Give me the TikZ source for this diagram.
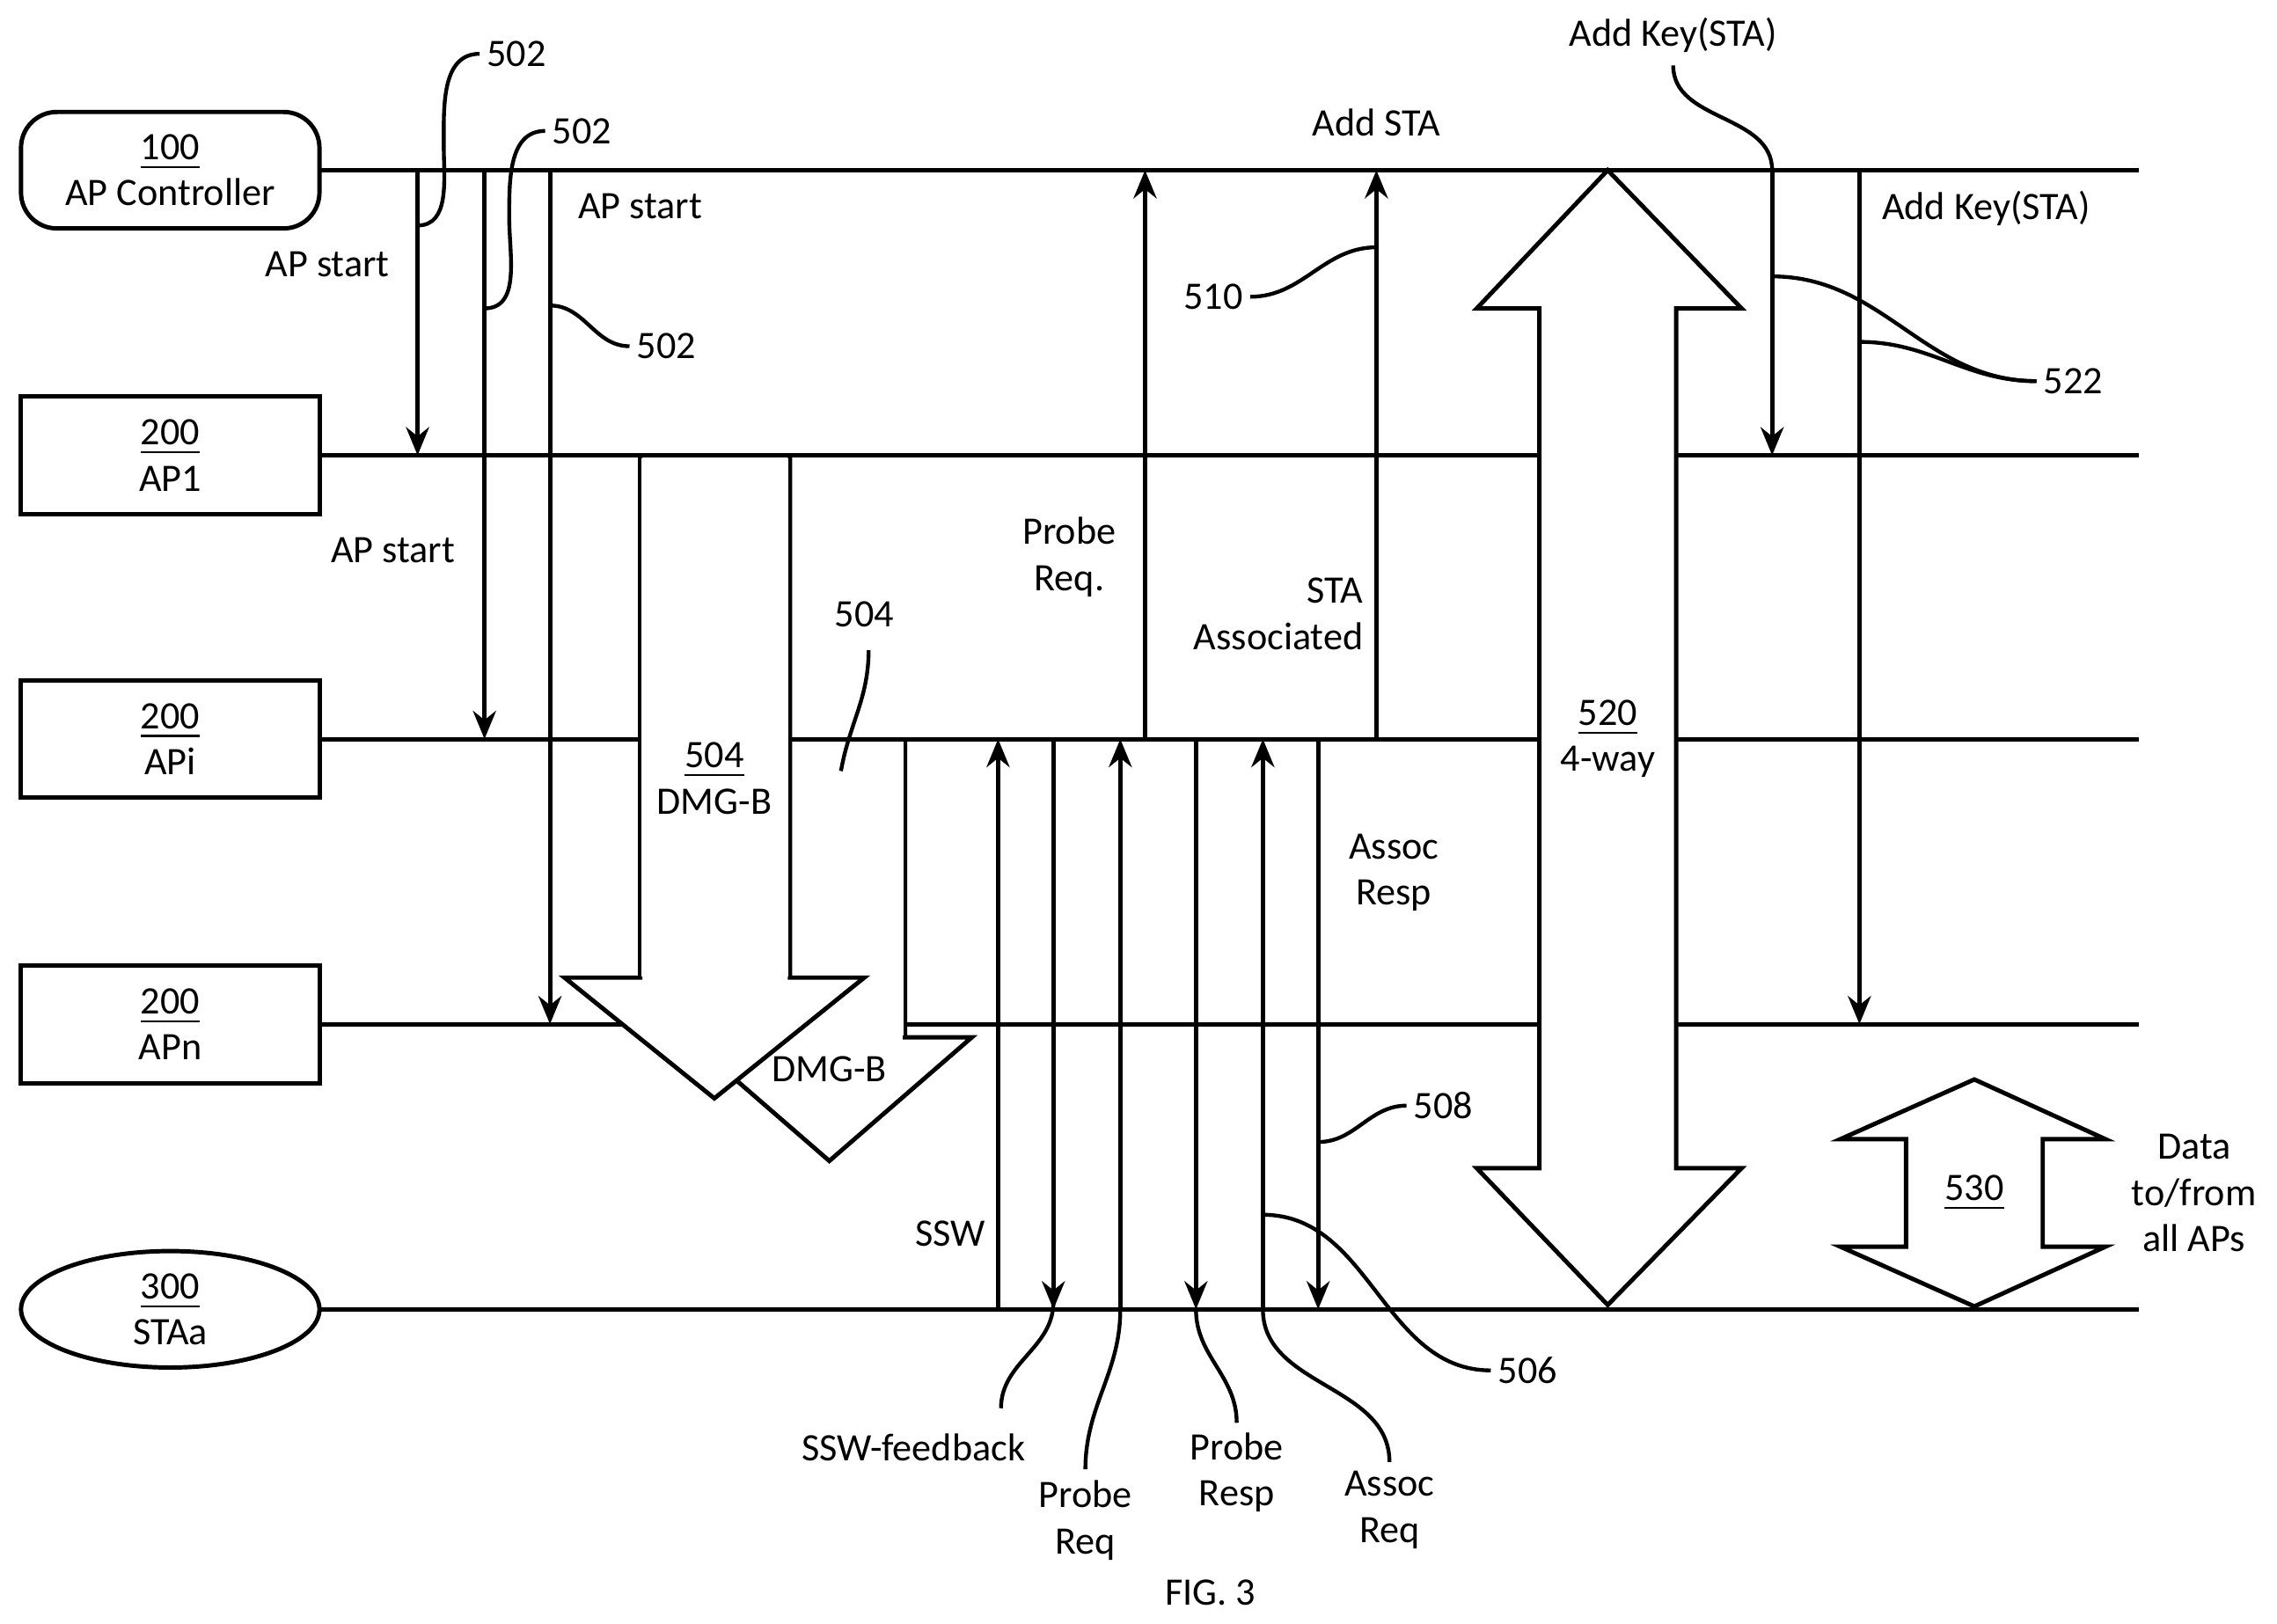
\documentclass[tikz,border=0pt]{standalone}
\usepackage{fontspec}
\setmainfont{Carlito}
\usetikzlibrary{arrows.meta,shapes.geometric}
\begin{document}
\begin{tikzpicture}[x=0.01cm,y=-0.01cm,line width=0.85pt,
  every node/.style={font=\fontsize{7.6}{9}\selectfont,align=center,inner sep=1pt},
  msg/.style={-{Stealth[length=5.5pt,width=4.5pt]}},
  lead/.style={line width=0.75pt},
  lane/.style={line width=0.85pt},
  bigarrow/.style={fill=white,line width=0.85pt,line join=miter}]
\useasboundingbox (0,0) rectangle (1565,1116);
% lanes
\draw[lane] (219,117) -- (1470,117);
\draw[lane] (219,313) -- (1470,313);
\draw[lane] (219,508) -- (1470,508);
\draw[lane] (219,704) -- (1470,704);
\draw[lane] (219,900) -- (1470,900);
% entities
\node[draw,rounded corners=7pt,minimum width=2.05cm,minimum height=0.8cm,fill=white] (ctrl) at (117,117) {\underline{100}\\AP Controller};
\node[draw,minimum width=2.05cm,minimum height=0.81cm,fill=white] (ap1) at (117,313) {\underline{200}\\AP1};
\node[draw,minimum width=2.05cm,minimum height=0.8cm,fill=white] (api) at (117,508) {\underline{200}\\APi};
\node[draw,minimum width=2.05cm,minimum height=0.81cm,fill=white] (apn) at (117,704) {\underline{200}\\APn};
\node[draw,ellipse,minimum width=2.05cm,minimum height=0.8cm,fill=white,inner sep=0pt] (sta) at (117,900) {\underline{300}\\STAa};
% AP start
\draw[msg] (287,117) -- (287,313);
\draw[msg] (333,117) -- (333,508);
\draw[msg] (378,117) -- (378,704);
\node (apsA) at (225,182) {AP start};
\node (apsB) at (270,378) {AP start};
\node (apsC) at (440,142) {AP start};
\node (n502a) at (355,37) {502};
\node (n502b) at (400,90) {502};
\node (n502c) at (458,238) {502};
\draw[lead] (287,155) to[out=0,in=270] (305,100) to[out=90,in=180] (n502a.west);
\draw[lead] (333,212) to[out=0,in=270] (350,150) to[out=90,in=180] (n502b.west);
\draw[lead] (378,210) to[out=0,in=180] (n502c.west);
% DMG-B beacons
\draw[bigarrow] (622,508) -- (622,713) -- (668,713) -- (570,798) -- (472,713) -- (518,713) -- (518,508);
\fill[white] (519,510) rectangle (621,712);
\draw[bigarrow] (440,313) -- (440,672) -- (388,672) -- (491,755) -- (594,672) -- (543,672) -- (543,313);
\fill[white] (441,315) rectangle (542,671);
\draw[lane] (440,313) -- (543,313);
\draw[lane] (543,508) -- (622,508);
\node (dmgA) at (491,535) {\underline{504}\\DMG-B};
\node (dmgB) at (570,735) {DMG-B};
\node (n504) at (594,422) {504};
\draw[lead] (578,530) to[out=80,in=270] (597,447);
% STA exchange
\draw[msg] (686,900) -- (686,508);
\draw[msg] (724,508) -- (724,900);
\draw[msg] (770,900) -- (770,508);
\draw[msg] (822,508) -- (822,900);
\draw[msg] (868,900) -- (868,508);
\draw[msg] (906,508) -- (906,900);
\node (ssw) at (653,848) {SSW};
\node (sswfb) at (628,995) {SSW-feedback};
\node (preq) at (746,1045) {Probe\\Req};
\node (presp) at (850,1012) {Probe\\Resp};
\node (areq) at (955,1038) {Assoc\\Req};
\node (aresp) at (958,600) {Assoc\\Resp};
\draw[lead] (724,895) to[out=270,in=90] (688,968);
\draw[lead] (770,900) to[out=270,in=90] (746,1010);
\draw[lead] (822,900) to[out=270,in=90] (850,978);
\draw[lead] (868,900) to[out=270,in=90] (955,1005);
\node (n508) at (992,760) {508};
\draw[lead] (906,785) to[out=0,in=180] (n508.west);
\node (n506) at (1050,942) {506};
\draw[lead] (868,835) to[out=0,in=180] (n506.west);
% association report
\draw[msg] (787,508) -- (787,117);
\draw[msg] (946,508) -- (946,117);
\node (probe) at (735,383) {Probe\\Req.};
\node[align=right,anchor=east] (assoc) at (942,422) {STA\\Associated};
\node (addsta) at (946,84) {Add STA};
\node (n510) at (834,204) {510};
\draw[lead] (n510.east) to[out=0,in=180] (946,170);
% 4-way
\draw[bigarrow] (1105,117) -- (1197,212) -- (1152,212) -- (1152,803) -- (1197,803) -- (1105,897) -- (1015,803) -- (1058,803) -- (1058,212) -- (1015,212) -- cycle;
\node (fourway) at (1105,508) {\underline{520}\\4-way};
% keys
\draw[msg] (1218,117) -- (1218,313);
\draw[msg] (1278,117) -- (1278,704);
\node (keyA) at (1150,24) {Add Key(STA)};
\node (keyB) at (1365,143) {Add Key(STA)};
\draw[lead] (1150,45) to[out=270,in=90] (1218,117);
\node (n522) at (1425,262) {522};
\draw[lead] (1218,190) to[out=0,in=180] (n522.west);
\draw[lead] (1278,235) to[out=0,in=180] (n522.west);
% data
\draw[bigarrow] (1357,742) -- (1447,783) -- (1404,783) -- (1404,857) -- (1447,857) -- (1357,898) -- (1265,857) -- (1310,857) -- (1310,783) -- (1265,783) -- cycle;
\node (n530) at (1357,820) {\underline{530}};
\node (data) at (1508,820) {Data\\to/from\\all APs};
\node (fig) at (832,1095) {FIG. 3};
\end{tikzpicture}
\end{document}
